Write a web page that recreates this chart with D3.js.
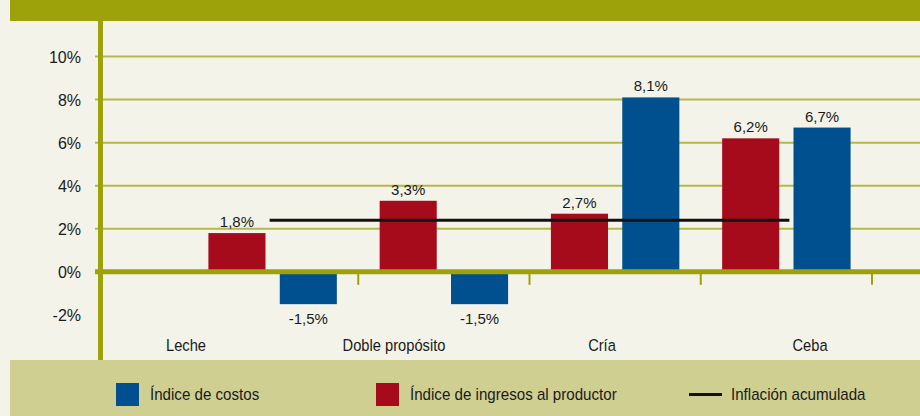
<!DOCTYPE html>
<html>
<head>
<meta charset="utf-8">
<script src="https://cdn.jsdelivr.net/npm/d3@7"></script>
<style>
  body { margin: 0; background: #f4f3e9; }
  svg { display: block; }
</style>
</head>
<body>
<div id="chart"></div>
<script>
/* Índices de costos e ingresos por sistema productivo */

const categories = ["Leche", "Doble propósito", "Cría", "Ceba"];
const ingresos = [1.8, 3.3, 2.7, 6.2];   // Índice de ingresos al productor
const costos = [-1.5, -1.5, 8.1, 6.7];   // Índice de costos
const inflacion = 2.4;                    // Inflación acumulada
const yTicks = [-2, 0, 2, 4, 6, 8, 10];

const width = 920, height = 416;
const olive = "#9da20a", red = "#a50b1a", blue = "#00508f";
const fmt = v => String(v.toFixed(1)).replace(".", ",") + "%";
const narrow = 0.89; // the original uses a condensed face

const data = categories.map((c, i) => ({cat: c, values: [
  {key: "ingresos", value: ingresos[i]},
  {key: "costos", value: costos[i]}
]}));

const svg = d3.select("#chart")
  .append("svg")
  .attr("width", width)
  .attr("height", height);

svg.append("rect").attr("width", width).attr("height", height).attr("fill", "#f4f3e9");

// top band and legend band
svg.append("rect").attr("x", 10).attr("y", 0).attr("width", width - 10).attr("height", 21).attr("fill", olive);
svg.append("rect").attr("x", 10).attr("y", 360).attr("width", width - 10).attr("height", 56).attr("fill", "#cfcf91");

const y = d3.scaleLinear().domain([-4, 10]).range([358, 56.5]);
const x = d3.scaleBand().domain(categories).range([187, 872]);
const xs = d3.scaleBand().domain(["ingresos", "costos"]).range([0, x.bandwidth()])
  .paddingInner(0.2).paddingOuter(0.3);
const xLabel = d3.scalePoint().domain(categories).range([186, 810]);

// gridlines
svg.append("g")
  .selectAll("line")
  .data(yTicks.filter(d => d > 0))
  .join("line")
  .attr("x1", 95).attr("x2", width)
  .attr("y1", d => y(d)).attr("y2", d => y(d))
  .attr("stroke", "#b4b74a")
  .attr("stroke-width", 2);

// y tick labels
svg.append("g")
  .attr("font-family", "'Liberation Sans', Arial, sans-serif")
  .attr("font-size", 16)
  .attr("fill", "#1a1a1a")
  .attr("text-anchor", "end")
  .selectAll("text")
  .data(yTicks)
  .join("text")
  .attr("x", 81)
  .attr("y", d => y(d) + 6)
  .text(d => d + "%");

// bars
const groups = svg.append("g")
  .selectAll("g")
  .data(data)
  .join("g")
  .attr("transform", d => `translate(${x(d.cat)},0)`);

groups.selectAll("rect")
  .data(d => d.values)
  .join("rect")
  .attr("x", d => xs(d.key))
  .attr("width", xs.bandwidth())
  .attr("y", d => y(Math.max(0, d.value)))
  .attr("height", d => Math.abs(y(d.value) - y(0)))
  .attr("fill", d => d.key === "ingresos" ? red : blue);

groups.selectAll("text")
  .data(d => d.values)
  .join("text")
  .attr("font-family", "'Liberation Sans', Arial, sans-serif")
  .attr("font-size", 15)
  .attr("fill", "#1a1a1a")
  .attr("text-anchor", "middle")
  .attr("x", d => xs(d.key) + xs.bandwidth() / 2)
  .attr("y", d => d.value >= 0 ? y(d.value) - 6 : y(d.value) + 20)
  .text(d => fmt(d.value));

// zero line, category ticks, y axis
svg.append("line")
  .attr("x1", 95).attr("x2", width)
  .attr("y1", y(0)).attr("y2", y(0))
  .attr("stroke", olive).attr("stroke-width", 5);

svg.append("g")
  .selectAll("line")
  .data(categories)
  .join("line")
  .attr("x1", d => x(d) + x.step()).attr("x2", d => x(d) + x.step())
  .attr("y1", y(0)).attr("y2", y(0) + 13)
  .attr("stroke", olive).attr("stroke-width", 2);

svg.append("line")
  .attr("x1", 100.5).attr("x2", 100.5)
  .attr("y1", 21).attr("y2", 360)
  .attr("stroke", olive).attr("stroke-width", 5);

// inflation line
svg.append("line")
  .attr("x1", x(categories[0]) + x.bandwidth() / 2 - 3)
  .attr("x2", x(categories[categories.length - 1]) + x.bandwidth() / 2 + 3)
  .attr("y1", y(inflacion)).attr("y2", y(inflacion))
  .attr("stroke", "#111").attr("stroke-width", 3);

// category labels
svg.append("g")
  .attr("font-family", "'Liberation Sans', Arial, sans-serif")
  .attr("font-size", 16.5)
  .attr("fill", "#1a1a1a")
  .attr("text-anchor", "middle")
  .selectAll("text")
  .data(categories)
  .join("text")
  .attr("transform", d => `translate(${xLabel(d)},351) scale(${narrow},1)`)
  .text(d => d);

// legend
const legend = svg.append("g")
  .attr("font-family", "'Liberation Sans', Arial, sans-serif")
  .attr("font-size", 17)
  .attr("fill", "#1a1a1a");

const items = [
  {label: "Índice de costos", color: blue, x: 116, type: "box"},
  {label: "Índice de ingresos al productor", color: red, x: 376, type: "box"},
  {label: "Inflación acumulada", color: "#111", x: 689, type: "line"}
];

items.forEach(it => {
  if (it.type === "box") {
    legend.append("rect").attr("x", it.x).attr("y", 383).attr("width", 23).attr("height", 23).attr("fill", it.color);
    legend.append("text").attr("transform", `translate(${it.x + 34},400) scale(${narrow},1)`).text(it.label);
  } else {
    legend.append("line").attr("x1", it.x).attr("x2", it.x + 33).attr("y1", 394.5).attr("y2", 394.5)
      .attr("stroke", it.color).attr("stroke-width", 3);
    legend.append("text").attr("transform", `translate(${it.x + 42},400) scale(${narrow},1)`).text(it.label);
  }
});
</script>
</body>
</html>
